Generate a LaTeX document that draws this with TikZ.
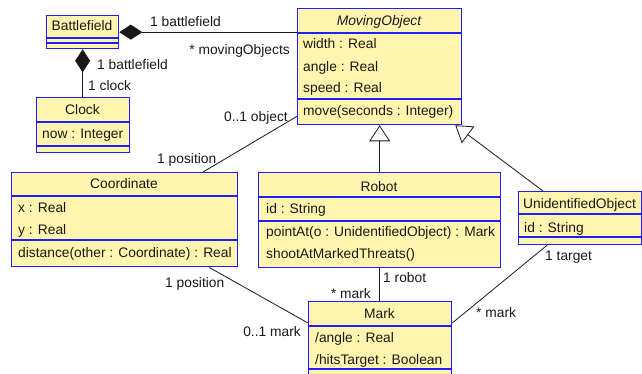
\documentclass[tikz,border=0pt]{standalone}
\usepackage{fontspec}
\setmainfont{Liberation Sans}
\usetikzlibrary{arrows.meta,calc}
\definecolor{classfill}{RGB}{255,245,175}
\definecolor{classline}{RGB}{30,30,255}
\definecolor{ink}{RGB}{25,25,25}
\tikzset{
  cls/.style={draw=classline, fill=classfill, line width=1.3pt, anchor=north west, inner sep=0pt},
  sep/.style={draw=classline, line width=1.1pt},
  txt/.style={font=\fontsize{13.8}{16}\selectfont, text=ink, inner sep=0pt, anchor=base west},
  ttl/.style={txt, anchor=base},
  lbl/.style={txt},
  conn/.style={draw=ink, line width=0.8pt},
  compo/.style={conn, {Diamond[length=23pt,width=15pt]}-},
  inherit/.style={conn, -{Triangle[open,length=16pt,width=21pt]}},
}
\begin{document}
\begin{tikzpicture}[x=1pt,y=-1pt]
\useasboundingbox (0,0) rectangle (642,374);

% class boxes
\node[cls, minimum width=72pt,  minimum height=33pt]  (bf)    at (46,15)   {};
\node[cls, minimum width=93pt,  minimum height=55pt]  (clock) at (36,97)   {};
\node[cls, minimum width=164pt, minimum height=116pt] (mo)    at (297,8)   {};
\node[cls, minimum width=226pt, minimum height=94pt]  (coord) at (11,172)  {};
\node[cls, minimum width=242pt, minimum height=95pt]  (robot) at (258,172) {};
\node[cls, minimum width=123pt, minimum height=53pt]  (uo)    at (518,191) {};
\node[cls, minimum width=143pt, minimum height=80pt]  (mark)  at (308,301) {};

% compartment separators
\draw[sep] (46,38) -- (118,38);   \draw[sep] (46,43) -- (118,43);
\draw[sep] (36,122) -- (129,122); \draw[sep] (36,146) -- (129,146);
\draw[sep] (297,33) -- (461,33);  \draw[sep] (297,99) -- (461,99);
\draw[sep] (11,196) -- (237,196); \draw[sep] (11,240) -- (237,240);
\draw[sep] (258,197) -- (500,197); \draw[sep] (258,221) -- (500,221);
\draw[sep] (518,214) -- (641,214); \draw[sep] (518,237) -- (641,237);
\draw[sep] (308,326) -- (451,326); \draw[sep] (308,369) -- (451,369);

% Battlefield
\node[ttl] (bfname) at (82,31) {Battlefield};
% Clock
\node[ttl] (clname) at (82.5,115) {Clock};
\node[txt] (clnow) at (42,139) {now : Integer};
% MovingObject
\node[ttl] (moname) at (379,25.5) {\itshape MovingObject};
\node[txt] (mow) at (303,49) {width : Real};
\node[txt] (moa) at (303,72) {angle : Real};
\node[txt] (mos) at (303,93) {speed : Real};
\node[txt] (mom) at (303,116) {move(seconds : Integer)};
% Coordinate
\node[ttl] (coname) at (124,189) {Coordinate};
\node[txt] (cox) at (18,212) {x : Real};
\node[txt] (coy) at (18,234) {y : Real};
\node[txt] (cod) at (18,257) {distance(other : Coordinate) : Real};
% Robot
\node[ttl] (roname) at (379,191) {Robot};
\node[txt] (roid) at (266,214) {id : String};
\node[txt] (rop) at (266,236) {pointAt(o : UnidentifiedObject) : Mark};
\node[txt] (ros) at (266,258) {shootAtMarkedThreats()};
% UnidentifiedObject
\node[ttl] (uoname) at (579.5,208) {UnidentifiedObject};
\node[txt] (uoid) at (524,232) {id : String};
% Mark
\node[ttl] (mkname) at (379.5,318) {Mark};
\node[txt] (mka) at (315,342) {/angle : Real};
\node[txt] (mkh) at (315,364) {/hitsTarget : Boolean};

% connectors
\draw[compo] (bf.east) -- (bf.east -| mo.west);
\draw[compo] (bf.south) -- (bf.south |- clock.north);
\draw[conn] ($(coord.north west)+(192,0)$) -- ($(mo.south west)+(0,-9)$);
\draw[conn] ($(coord.south west)+(198,0)$) -- ($(mark.north west)+(0,22)$);
\draw[inherit] (robot.north) -- (robot.north |- mo.south);
\draw[inherit] ($(uo.north west)+(25,0)$) -- ($(mo.south east)+(-7,0)$);
\draw[conn] (robot.south) -- (robot.south |- mark.north);
\draw[conn] ($(uo.south west)+(29,0)$) -- ($(mark.north east)+(0,22)$);

% association end labels
\node[lbl] (l1) at (150,27) {1 battlefield};
\node[lbl, anchor=base east] (l2) at (290,55) {* movingObjects};
\node[lbl] (l3) at (97,70) {1 battlefield};
\node[lbl] (l4) at (88,91) {1 clock};
\node[lbl, anchor=base east] (l5) at (288,122) {0..1 object};
\node[lbl] (l6) at (157,164) {1 position};
\node[lbl] (l7) at (165,287) {1 position};
\node[lbl, anchor=base east] (l8) at (301,336) {0..1 mark};
\node[lbl] (l9) at (383,282) {1 robot};
\node[lbl, anchor=base east] (l10) at (371,298) {* mark};
\node[lbl] (l11) at (545,260) {1 target};
\node[lbl] (l12) at (476,317) {* mark};
\end{tikzpicture}
\end{document}
